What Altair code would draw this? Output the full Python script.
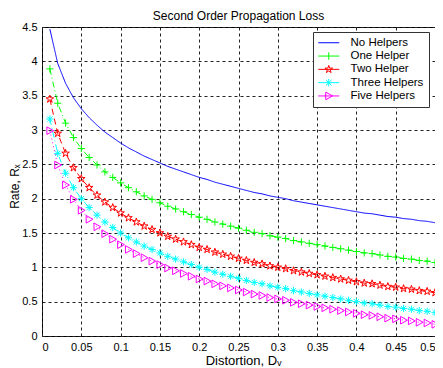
import altair as alt
import pandas as pd

FONT = "Liberation Sans"

distortion = [0.01, 0.02, 0.03, 0.04, 0.05, 0.06, 0.07, 0.08, 0.09, 0.10,
              0.11, 0.12, 0.13, 0.14, 0.15, 0.16, 0.17, 0.18, 0.19, 0.20,
              0.21, 0.22, 0.23, 0.24, 0.25, 0.26, 0.27, 0.28, 0.29, 0.30,
              0.31, 0.32, 0.33, 0.34, 0.35, 0.36, 0.37, 0.38, 0.39, 0.40,
              0.41, 0.42, 0.43, 0.44, 0.45, 0.46, 0.47, 0.48, 0.49, 0.50]

no_helpers = [4.47, 3.97, 3.68, 3.47, 3.31, 3.18, 3.07, 2.97, 2.89, 2.81,
              2.74, 2.68, 2.62, 2.57, 2.52, 2.47, 2.43, 2.39, 2.35, 2.31,
              2.28, 2.24, 2.21, 2.18, 2.15, 2.12, 2.09, 2.07, 2.04, 2.02,
              2.00, 1.97, 1.95, 1.93, 1.91, 1.89, 1.87, 1.85, 1.83, 1.81,
              1.79, 1.78, 1.76, 1.74, 1.73, 1.71, 1.70, 1.68, 1.67, 1.65]

one_helper = [3.89, 3.39, 3.10, 2.89, 2.73, 2.60, 2.49, 2.39, 2.31, 2.23,
              2.16, 2.10, 2.04, 1.99, 1.94, 1.89, 1.85, 1.81, 1.77, 1.73,
              1.70, 1.66, 1.63, 1.60, 1.57, 1.54, 1.51, 1.49, 1.46, 1.44,
              1.42, 1.39, 1.37, 1.35, 1.33, 1.31, 1.29, 1.27, 1.25, 1.23,
              1.21, 1.20, 1.18, 1.16, 1.15, 1.13, 1.12, 1.10, 1.09, 1.07]

two_helper = [3.45, 2.95, 2.66, 2.45, 2.29, 2.16, 2.05, 1.95, 1.87, 1.79,
              1.72, 1.66, 1.60, 1.55, 1.50, 1.45, 1.41, 1.37, 1.33, 1.29,
              1.26, 1.22, 1.19, 1.16, 1.13, 1.10, 1.07, 1.05, 1.02, 1.00,
              0.98, 0.95, 0.93, 0.91, 0.89, 0.87, 0.85, 0.83, 0.81, 0.79,
              0.77, 0.76, 0.74, 0.72, 0.71, 0.69, 0.68, 0.66, 0.65, 0.63]

three_helpers = [3.16, 2.66, 2.37, 2.16, 2.00, 1.87, 1.76, 1.66, 1.58, 1.50,
                 1.43, 1.37, 1.31, 1.26, 1.21, 1.16, 1.12, 1.08, 1.04, 1.00,
                 0.97, 0.93, 0.90, 0.87, 0.84, 0.81, 0.78, 0.76, 0.73, 0.71,
                 0.69, 0.66, 0.64, 0.62, 0.60, 0.58, 0.56, 0.54, 0.52, 0.50,
                 0.48, 0.47, 0.45, 0.43, 0.42, 0.40, 0.39, 0.37, 0.36, 0.34]

five_helpers = [2.99, 2.49, 2.20, 1.99, 1.83, 1.70, 1.59, 1.49, 1.41, 1.33,
                1.26, 1.20, 1.14, 1.09, 1.04, 0.99, 0.95, 0.91, 0.87, 0.83,
                0.80, 0.76, 0.73, 0.70, 0.67, 0.64, 0.61, 0.59, 0.56, 0.54,
                0.52, 0.49, 0.47, 0.45, 0.43, 0.41, 0.39, 0.37, 0.35, 0.33,
                0.31, 0.30, 0.28, 0.26, 0.25, 0.23, 0.22, 0.20, 0.19, 0.17]

series_names = ["No Helpers", "One Helper", "Two Helper", "Three Helpers", "Five Helpers"]
series_values = [no_helpers, one_helper, two_helper, three_helpers, five_helpers]
series_colors = ["#0000ff", "#00ff00", "#ff0000", "#00ffff", "#ff00ff"]
series_dashes = [[1, 0], [6, 3, 1, 3], [6, 4], [6, 3, 1, 3], [1, 3]]

x_ticks = [0, 0.05, 0.1, 0.15, 0.2, 0.25, 0.3, 0.35, 0.4, 0.45, 0.5]
y_ticks = [0, 0.5, 1, 1.5, 2, 2.5, 3, 3.5, 4, 4.5]

star = ("M0,-1L0.225,-0.309L0.951,-0.309L0.363,0.118L0.588,0.809L0,0.382"
        "L-0.588,0.809L-0.363,0.118L-0.951,-0.309L-0.225,-0.309Z")
marker_names = series_names[1:]
marker_shapes = [
    "M-0.9,0H0.9M0,-0.9V0.9",
    star,
    "M-0.9,0H0.9M0,-0.9V0.9M-0.65,-0.65L0.65,0.65M-0.65,0.65L0.65,-0.65",
    "M-0.75,-0.95L0.95,0L-0.75,0.95Z",
]
# legend symbols: a 21px line with the marker in the middle (unit = 5px)
legend_shapes = [
    "M-2.1,0H2.1",
    "M-2.1,0H2.1M0,-0.76V0.76",
    "M-2.1,0H2.1M0,-0.8L0.18,-0.247L0.76,-0.247L0.29,0.094L0.47,0.647L0,0.306"
    "L-0.47,0.647L-0.29,0.094L-0.76,-0.247L-0.18,-0.247Z",
    "M-2.1,0H2.1M0,-0.76V0.76M-0.56,-0.56L0.56,0.56M-0.56,0.56L0.56,-0.56",
    "M-2.1,0H2.1M-0.6,-0.76L0.76,0L-0.6,0.76Z",
]

rows = []
for name, vals in zip(series_names, series_values):
    for d, r in zip(distortion, vals):
        rows.append({"series": name, "D": d, "R": r})
df = pd.DataFrame(rows)

x_enc = alt.X("D:Q", scale=alt.Scale(domain=[0, 0.5], nice=False),
              axis=alt.Axis(values=x_ticks, format="~g", title="Distortion, Dᵥ",
                            titlePadding=2, titleX=201))
y_enc = alt.Y("R:Q", scale=alt.Scale(domain=[0, 4.5], nice=False),
              axis=alt.Axis(values=y_ticks, format="~g", title="Rate, Rₓ",
                            titlePadding=0, titleY=159, titleFontSize=12))
color_scale = alt.Scale(domain=series_names, range=series_colors)

lines = alt.Chart(df).mark_line(strokeWidth=1, opacity=1).encode(
    x=x_enc, y=y_enc,
    color=alt.Color("series:N", scale=color_scale, legend=None),
    strokeDash=alt.StrokeDash("series:N", scale=alt.Scale(domain=series_names, range=series_dashes), legend=None),
    detail="series:N",
)

points = alt.Chart(df).transform_filter(
    alt.FieldOneOfPredicate(field="series", oneOf=marker_names)
).mark_point(filled=False, size=64, strokeWidth=1, opacity=1).encode(
    x=x_enc, y=y_enc,
    color=alt.Color("series:N", scale=color_scale, legend=None),
    shape=alt.Shape("series:N", scale=alt.Scale(domain=marker_names, range=marker_shapes), legend=None),
)

legend_common = dict(
    orient="none", legendX=271, legendY=5, title=None,
    fillColor="white", strokeColor="#333333", padding=5,
    labelFont=FONT, labelFontSize=11.5, labelColor="black", labelOffset=16,
    symbolSize=100, symbolOffset=5, symbolStrokeWidth=1, symbolOpacity=1, rowPadding=0.3,
)

legend_layer = alt.Chart(df).transform_filter("false").mark_point(
    filled=False, strokeWidth=1, opacity=1
).encode(
    x=x_enc, y=y_enc,
    color=alt.Color("series:N", scale=color_scale, legend=alt.Legend(**legend_common)),
    shape=alt.Shape("series:N", scale=alt.Scale(domain=series_names, range=legend_shapes),
                    legend=alt.Legend(**legend_common)),
)

chart = alt.layer(lines, points, legend_layer).resolve_scale(
    color="independent", shape="independent"
).properties(
    width=393, height=309,
    autosize=alt.AutoSizeParams(type="none"),
    padding={"left": 34, "top": 19, "right": 0, "bottom": 32},
    title=alt.TitleParams("Second Order Propagation Loss", font=FONT, fontSize=12,
                          fontWeight="normal", color="black", offset=6, dy=8,
                          frame="group"),
    background="white",
).configure_view(
    stroke="black", strokeWidth=1
).configure_axis(
    labelFont=FONT, labelFontSize=11, labelColor="black",
    titleFont=FONT, titleFontSize=13, titleFontWeight="normal", titleColor="black",
    domain=False, ticks=False, tickSize=0, labelPadding=5,
    grid=True, gridColor="#222222", gridDash=[3, 3], gridWidth=1, gridOpacity=1,
)

chart.save("out.html", embed_options={"renderer": "svg", "actions": False})
